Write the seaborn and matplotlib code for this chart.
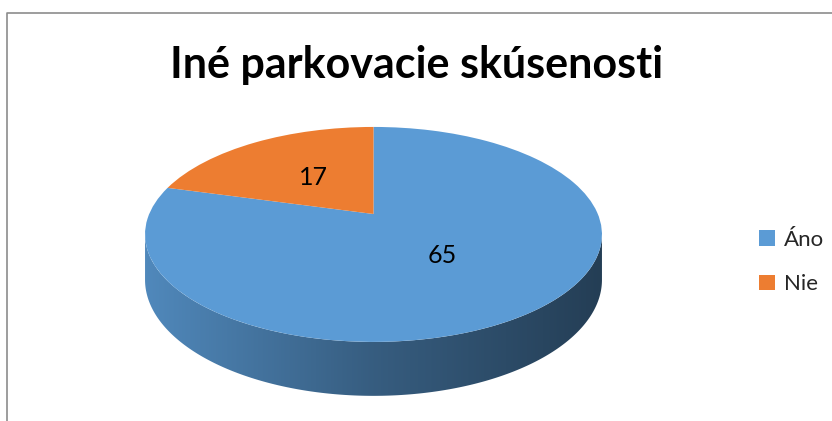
import numpy as np
import matplotlib
matplotlib.use("Agg")
import matplotlib.pyplot as plt
import seaborn as sns
from matplotlib.transforms import Transform
from matplotlib.patches import Polygon
from matplotlib.lines import Line2D
from matplotlib.colors import LinearSegmentedColormap, to_rgb

# data
labels = ["Áno", "Nie"]
values = [65, 17]
colors = ["#5b9bd5", "#ed7d31"]
title = "Iné parkovacie skúsenosti"

sns.set_theme(style="white")
plt.rcParams["font.family"] = ["Lato", "DejaVu Sans"]

W, H = 832, 421
# geometry of the tilted pie (pixels)
CX, CY = 373.5, 214
A, B = 224.3, 103.6
K = 0.19
DEPTH = 43.7


class Tilt(Transform):
    """simple perspective: far side of the pie looks smaller"""
    input_dims = output_dims = 2

    def __init__(self, drop=0.0):
        super().__init__()
        self.drop = drop

    def transform_non_affine(self, xy):
        xy = np.asarray(xy, dtype=float)
        w = 1 + K * xy[:, 1]
        return np.column_stack([CX + A * xy[:, 0] / w,
                                CY - B * xy[:, 1] / w + self.drop / w])


fig = plt.figure(figsize=(W / 100, H / 100), dpi=100)
ax = fig.add_axes([0, 0, 1, 1])

total = sum(values)
wedges, _, autotexts = ax.pie(
    values, colors=colors, startangle=90, counterclock=False,
    autopct=lambda p: f"{p * total / 100:.0f}", pctdistance=0.47,
    wedgeprops=dict(linewidth=0),
    textprops=dict(fontsize=18, color="black"),
)

tilt = Tilt()
for w in wedges:
    w.set_transform(tilt + ax.transData)
    w.set_zorder(3)
for t in autotexts:
    t.set_transform(tilt + ax.transData)
    t.set_zorder(4)

# visible side of the pie (front half of the rim)
s = np.arcsin(K)
th = np.linspace(np.pi + s, 2 * np.pi - s, 300)
th_deg = np.degrees(th)
for w, c in zip(wedges, colors):
    span = w.theta2 - w.theta1
    mask = ((th_deg - w.theta1) % 360) <= span
    if mask.sum() < 2:
        continue
    rim = np.column_stack([np.cos(th[mask]), np.sin(th[mask])])
    top = Tilt().transform(rim)
    bot = Tilt(DEPTH).transform(rim)
    side = Polygon(np.vstack([top, bot[::-1]]), closed=True,
                   facecolor="none", edgecolor="none")
    ax.add_patch(side)
    base = np.array(to_rgb(c))
    cmap = LinearSegmentedColormap.from_list(
        "side", [base * 0.88, base * 0.60, base * 0.40])
    grad = np.linspace(0, 1, 256)[None, :]
    im = ax.imshow(grad, cmap=cmap, aspect="auto", zorder=1,
                   extent=(top[:, 0].min(), top[:, 0].max(), H, 150))
    im.set_clip_path(side)

ax.set_xlim(0, W)
ax.set_ylim(H, 0)
ax.set_aspect("auto")
ax.axis("off")

fig.text(417 / W, 1 - 78 / H, title, ha="center", va="baseline",
         fontsize=31, fontweight="bold", color="black")

fig.legend(wedges, labels, loc="center left",
           bbox_to_anchor=(748 / W, 1 - 262 / H), frameon=False,
           fontsize=16, handlelength=0.7, handleheight=0.7,
           handletextpad=0.4, labelspacing=1.1, borderpad=0)

# chart area border (cropped on the right and bottom)
fig.add_artist(Line2D([7 / W, 7 / W, 1.01], [-0.01, 1 - 13 / H, 1 - 13 / H],
                      transform=fig.transFigure, color="#8c8c8c", lw=1.2))

fig.savefig("out.png", dpi=100)
